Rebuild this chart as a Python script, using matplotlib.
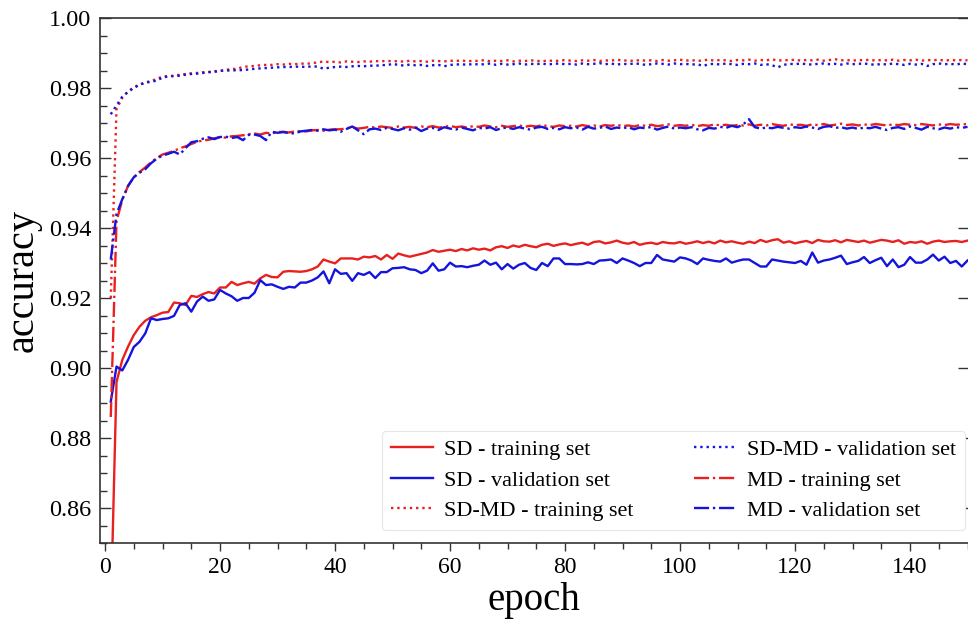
import matplotlib
matplotlib.use("Agg")
import matplotlib.pyplot as plt
from matplotlib.ticker import MultipleLocator, FormatStrFormatter

plt.rcParams["font.family"] = ["Liberation Serif", "DejaVu Serif"]

RED = "#e8201f"
BLUE = "#1414dc"

epochs = list(range(1, 151))

sd_train = [
    0.8300, 0.8960, 0.9023, 0.9061, 0.9094, 0.9118, 0.9135, 0.9145, 0.9151, 0.9158,
    0.9160, 0.9187, 0.9185, 0.9180, 0.9206, 0.9203, 0.9211, 0.9217, 0.9213, 0.9230,
    0.9230, 0.9246, 0.9237, 0.9242, 0.9246, 0.9241, 0.9256, 0.9266, 0.9260, 0.9259,
    0.9275, 0.9277, 0.9276, 0.9275, 0.9277, 0.9282, 0.9290, 0.9310, 0.9304, 0.9299,
    0.9313, 0.9313, 0.9313, 0.9310, 0.9318, 0.9316, 0.9320, 0.9310, 0.9323, 0.9312,
    0.9327, 0.9322, 0.9318, 0.9322, 0.9326, 0.9330, 0.9337, 0.9332, 0.9335, 0.9338,
    0.9334, 0.9340, 0.9336, 0.9342, 0.9338, 0.9341, 0.9336, 0.9345, 0.9348, 0.9343,
    0.9350, 0.9346, 0.9352, 0.9348, 0.9345, 0.9352, 0.9355, 0.9349, 0.9353, 0.9356,
    0.9351, 0.9355, 0.9358, 0.9352, 0.9360, 0.9362, 0.9356, 0.9359, 0.9364, 0.9358,
    0.9355, 0.9360, 0.9352, 0.9356, 0.9358, 0.9354, 0.9360, 0.9357, 0.9356, 0.9360,
    0.9355, 0.9358, 0.9362, 0.9357, 0.9361, 0.9356, 0.9364, 0.9359, 0.9362, 0.9358,
    0.9355, 0.9361, 0.9357, 0.9366, 0.9360, 0.9365, 0.9368, 0.9358, 0.9362, 0.9356,
    0.9360, 0.9363, 0.9357, 0.9366, 0.9362, 0.9361, 0.9365, 0.9359, 0.9366, 0.9363,
    0.9360, 0.9364, 0.9358, 0.9362, 0.9366, 0.9364, 0.9360, 0.9365, 0.9355, 0.9360,
    0.9358, 0.9362, 0.9355, 0.9361, 0.9364, 0.9360, 0.9362, 0.9363, 0.9360, 0.9364,
]

sd_val = [
    0.8904, 0.9004, 0.8993, 0.9023, 0.9060, 0.9075, 0.9099, 0.9142, 0.9137, 0.9140,
    0.9142, 0.9149, 0.9180, 0.9185, 0.9161, 0.9190, 0.9204, 0.9192, 0.9196, 0.9223,
    0.9213, 0.9205, 0.9192, 0.9200, 0.9200, 0.9215, 0.9251, 0.9237, 0.9239, 0.9232,
    0.9226, 0.9232, 0.9230, 0.9244, 0.9244, 0.9250, 0.9259, 0.9276, 0.9242, 0.9282,
    0.9269, 0.9271, 0.9249, 0.9271, 0.9266, 0.9274, 0.9257, 0.9274, 0.9274, 0.9285,
    0.9286, 0.9288, 0.9282, 0.9280, 0.9271, 0.9278, 0.9299, 0.9278, 0.9282, 0.9301,
    0.9290, 0.9291, 0.9288, 0.9292, 0.9295, 0.9307, 0.9295, 0.9301, 0.9282, 0.9297,
    0.9284, 0.9295, 0.9300, 0.9286, 0.9280, 0.9300, 0.9291, 0.9313, 0.9313, 0.9297,
    0.9297, 0.9296, 0.9297, 0.9302, 0.9297, 0.9307, 0.9308, 0.9310, 0.9300, 0.9313,
    0.9307, 0.9300, 0.9291, 0.9300, 0.9300, 0.9323, 0.9310, 0.9307, 0.9304, 0.9316,
    0.9313, 0.9307, 0.9297, 0.9313, 0.9309, 0.9306, 0.9304, 0.9313, 0.9301, 0.9306,
    0.9310, 0.9310, 0.9300, 0.9290, 0.9290, 0.9310, 0.9307, 0.9304, 0.9302, 0.9300,
    0.9306, 0.9295, 0.9330, 0.9301, 0.9307, 0.9310, 0.9315, 0.9321, 0.9297, 0.9302,
    0.9306, 0.9317, 0.9300, 0.9308, 0.9315, 0.9291, 0.9310, 0.9288, 0.9295, 0.9317,
    0.9301, 0.9301, 0.9310, 0.9324, 0.9307, 0.9318, 0.9300, 0.9306, 0.9290, 0.9307,
]

sdmd_train = [
    0.9200, 0.9740, 0.9772, 0.9790, 0.9802, 0.9810, 0.9816, 0.9820, 0.9826, 0.9833,
    0.9834, 0.9835, 0.9838, 0.9840, 0.9842, 0.9843, 0.9845, 0.9846, 0.9848, 0.9849,
    0.9852, 0.9854, 0.9855, 0.9860, 0.9862, 0.9863, 0.9865, 0.9866, 0.9866, 0.9868,
    0.9867, 0.9869, 0.9868, 0.9870, 0.9869, 0.9871, 0.9873, 0.9876, 0.9874, 0.9875,
    0.9873, 0.9876, 0.9875, 0.9874, 0.9876, 0.9875, 0.9877, 0.9876, 0.9878, 0.9876,
    0.9877, 0.9875, 0.9878, 0.9876, 0.9877, 0.9875, 0.9878, 0.9877, 0.9876, 0.9878,
    0.9877, 0.9879, 0.9876, 0.9878, 0.9877, 0.9880, 0.9876, 0.9878, 0.9877, 0.9879,
    0.9876, 0.9878, 0.9877, 0.9879, 0.9878, 0.9876, 0.9879, 0.9877, 0.9878, 0.9880,
    0.9878, 0.9877, 0.9879, 0.9878, 0.9880, 0.9877, 0.9879, 0.9878, 0.9881, 0.9878,
    0.9879, 0.9877, 0.9880, 0.9878, 0.9879, 0.9877, 0.9880, 0.9878, 0.9879, 0.9881,
    0.9878, 0.9880, 0.9877, 0.9879, 0.9881, 0.9878, 0.9880, 0.9879, 0.9877, 0.9880,
    0.9879, 0.9881, 0.9878, 0.9880, 0.9879, 0.9882, 0.9878, 0.9880, 0.9879, 0.9881,
    0.9878, 0.9880, 0.9879, 0.9881, 0.9878, 0.9880, 0.9882, 0.9879, 0.9880, 0.9878,
    0.9880, 0.9879, 0.9881, 0.9878, 0.9880, 0.9879, 0.9881, 0.9878, 0.9880, 0.9879,
    0.9881, 0.9878, 0.9880, 0.9879, 0.9881, 0.9878, 0.9880, 0.9879, 0.9880, 0.9879,
]

sdmd_val = [
    0.9725, 0.9750, 0.9775, 0.9789, 0.9800, 0.9809, 0.9815, 0.9818, 0.9821, 0.9830,
    0.9833, 0.9834, 0.9835, 0.9838, 0.9840, 0.9841, 0.9843, 0.9845, 0.9846, 0.9849,
    0.9850, 0.9850, 0.9851, 0.9851, 0.9853, 0.9855, 0.9856, 0.9857, 0.9858, 0.9859,
    0.9860, 0.9860, 0.9861, 0.9861, 0.9860, 0.9862, 0.9861, 0.9855, 0.9858, 0.9860,
    0.9861, 0.9860, 0.9862, 0.9863, 0.9862, 0.9864, 0.9863, 0.9866, 0.9865, 0.9869,
    0.9866, 0.9864, 0.9867, 0.9865, 0.9866, 0.9863, 0.9865, 0.9866, 0.9862, 0.9866,
    0.9867, 0.9868, 0.9866, 0.9869, 0.9867, 0.9868, 0.9870, 0.9866, 0.9869, 0.9867,
    0.9868, 0.9870, 0.9867, 0.9869, 0.9868, 0.9870, 0.9867, 0.9869, 0.9870, 0.9868,
    0.9869, 0.9867, 0.9870, 0.9868, 0.9869, 0.9871, 0.9868, 0.9870, 0.9867, 0.9869,
    0.9868, 0.9870, 0.9869, 0.9866, 0.9868, 0.9870, 0.9869, 0.9867, 0.9870, 0.9868,
    0.9869, 0.9867, 0.9868, 0.9863, 0.9868, 0.9869, 0.9867, 0.9870, 0.9868, 0.9866,
    0.9869, 0.9868, 0.9870, 0.9866, 0.9868, 0.9865, 0.9859, 0.9866, 0.9869, 0.9868,
    0.9870, 0.9868, 0.9867, 0.9869, 0.9870, 0.9868, 0.9869, 0.9867, 0.9870, 0.9868,
    0.9869, 0.9870, 0.9868, 0.9866, 0.9869, 0.9867, 0.9870, 0.9868, 0.9866, 0.9869,
    0.9867, 0.9869, 0.9863, 0.9868, 0.9870, 0.9868, 0.9869, 0.9867, 0.9870, 0.9868,
]

md_train = [
    0.8860, 0.9420, 0.9480, 0.9520, 0.9545, 0.9560, 0.9573, 0.9588, 0.9600, 0.9610,
    0.9615, 0.9620, 0.9628, 0.9633, 0.9640, 0.9646, 0.9650, 0.9652, 0.9656, 0.9660,
    0.9658, 0.9662, 0.9663, 0.9665, 0.9668, 0.9670, 0.9667, 0.9672, 0.9670, 0.9674,
    0.9675, 0.9673, 0.9676, 0.9677, 0.9676, 0.9679, 0.9680, 0.9678, 0.9681, 0.9682,
    0.9682, 0.9685, 0.9688, 0.9684, 0.9686, 0.9689, 0.9687, 0.9690, 0.9688, 0.9686,
    0.9690, 0.9687, 0.9689, 0.9686, 0.9690, 0.9688, 0.9691, 0.9687, 0.9689, 0.9692,
    0.9688, 0.9690, 0.9687, 0.9691, 0.9689, 0.9693, 0.9690, 0.9688, 0.9692, 0.9689,
    0.9691, 0.9693, 0.9689, 0.9692, 0.9690, 0.9694, 0.9691, 0.9689, 0.9693, 0.9691,
    0.9692, 0.9690, 0.9694, 0.9691, 0.9693, 0.9690, 0.9694, 0.9692, 0.9695, 0.9691,
    0.9693, 0.9690, 0.9694, 0.9692, 0.9695, 0.9691, 0.9693, 0.9696, 0.9692, 0.9694,
    0.9692, 0.9695, 0.9691, 0.9694, 0.9692, 0.9696, 0.9693, 0.9695, 0.9692, 0.9694,
    0.9693, 0.9696, 0.9692, 0.9695, 0.9693, 0.9697, 0.9694, 0.9692, 0.9696, 0.9694,
    0.9695, 0.9692, 0.9696, 0.9694, 0.9697, 0.9693, 0.9695, 0.9698, 0.9694, 0.9696,
    0.9693, 0.9696, 0.9694, 0.9697, 0.9695, 0.9693, 0.9696, 0.9694, 0.9697, 0.9695,
    0.9694, 0.9697, 0.9695, 0.9693, 0.9696, 0.9694, 0.9697, 0.9695, 0.9696, 0.9697,
]

md_val = [
    0.9310, 0.9440, 0.9482, 0.9520, 0.9545, 0.9558, 0.9568, 0.9585, 0.9598, 0.9607,
    0.9612, 0.9618, 0.9610, 0.9628, 0.9645, 0.9648, 0.9655, 0.9659, 0.9654, 0.9660,
    0.9661, 0.9657, 0.9660, 0.9651, 0.9666, 0.9667, 0.9663, 0.9651, 0.9675, 0.9672,
    0.9674, 0.9671, 0.9670, 0.9676, 0.9678, 0.9680, 0.9678, 0.9682, 0.9679, 0.9681,
    0.9675, 0.9683, 0.9690, 0.9679, 0.9668, 0.9682, 0.9684, 0.9680, 0.9686, 0.9683,
    0.9679, 0.9685, 0.9681, 0.9687, 0.9677, 0.9684, 0.9686, 0.9680, 0.9688, 0.9684,
    0.9681, 0.9687, 0.9683, 0.9679, 0.9686, 0.9684, 0.9688, 0.9680, 0.9685, 0.9687,
    0.9683, 0.9688, 0.9684, 0.9681, 0.9687, 0.9689, 0.9683, 0.9686, 0.9682, 0.9688,
    0.9685, 0.9687, 0.9681, 0.9689, 0.9684, 0.9686, 0.9690, 0.9683, 0.9687, 0.9685,
    0.9688, 0.9682, 0.9687, 0.9685, 0.9689, 0.9681, 0.9686, 0.9690, 0.9684, 0.9687,
    0.9685, 0.9688, 0.9682, 0.9679, 0.9686, 0.9684, 0.9689, 0.9686, 0.9692, 0.9688,
    0.9696, 0.9711, 0.9688, 0.9684, 0.9687, 0.9685, 0.9689, 0.9686, 0.9684, 0.9688,
    0.9686, 0.9690, 0.9687, 0.9683, 0.9689, 0.9691, 0.9686, 0.9688, 0.9684, 0.9687,
    0.9683, 0.9687, 0.9685, 0.9689, 0.9684, 0.9680, 0.9686, 0.9688, 0.9683, 0.9690,
    0.9686, 0.9681, 0.9689, 0.9685, 0.9682, 0.9687, 0.9684, 0.9688, 0.9686, 0.9689,
]

series = [
    ("SD - training set", sd_train, RED, "-"),
    ("SD - validation set", sd_val, BLUE, "-"),
    ("SD-MD - training set", sdmd_train, RED, ":"),
    ("SD-MD - validation set", sdmd_val, BLUE, ":"),
    ("MD - training set", md_train, RED, "-."),
    ("MD - validation set", md_val, BLUE, "-."),
]

fig = plt.figure(figsize=(9.68, 6.19), dpi=100)
ax = fig.add_axes([99.5 / 968, 76 / 619, 869.5 / 968, 525 / 619])

for label, values, color, ls in series:
    ax.plot(epochs, values, color=color, linestyle=ls, linewidth=1.7, label=label)

ax.set_xlim(-0.96, 150.26)
ax.set_ylim(0.85, 1.00)

ax.xaxis.set_major_locator(MultipleLocator(20))
ax.xaxis.set_minor_locator(MultipleLocator(5))
ax.yaxis.set_major_locator(MultipleLocator(0.02))
ax.yaxis.set_minor_locator(MultipleLocator(0.005))
ax.yaxis.set_major_formatter(FormatStrFormatter("%.2f"))

for side in ax.spines.values():
    side.set_color("#333333")
    side.set_linewidth(1.2)

ax.tick_params(axis="x", which="both", direction="out", colors="#333333", labelcolor="black",
               labelsize=17, pad=4)
ax.tick_params(axis="x", which="major", length=6, width=1)
ax.tick_params(axis="x", which="minor", length=4, width=1)
ax.tick_params(axis="y", which="both", direction="in", colors="#333333", labelcolor="black",
               labelsize=17.5, pad=6)
ax.tick_params(axis="y", which="major", length=8, width=1, right=True)
ax.tick_params(axis="y", which="minor", length=5, width=1)

ax.set_xlabel("epoch", fontsize=28, labelpad=3)
ax.set_ylabel("accuracy", fontsize=29, labelpad=5)

leg = ax.legend(ncol=2, loc="lower right", bbox_to_anchor=(0.9954, 0.0248), fontsize=16,
                handlelength=1.9, handletextpad=0.5, columnspacing=2.7, labelspacing=0.45,
                borderpad=0.4, borderaxespad=0.0,
                frameon=True, fancybox=True, framealpha=1.0)
leg.get_frame().set_edgecolor("#e6e6e6")
leg.get_frame().set_linewidth(0.8)

fig.savefig("out.png", dpi=100)
